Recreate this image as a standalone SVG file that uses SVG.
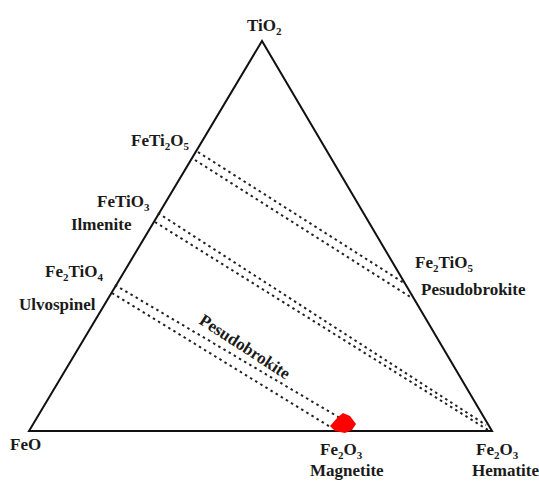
<svg xmlns="http://www.w3.org/2000/svg" width="539" height="482" viewBox="0 0 539 482">
<style>
text{font-family:"Liberation Serif","Times New Roman",serif;font-weight:bold;font-size:17px;fill:#1a1a1a}
.sub{font-size:11px}
.edge{stroke:#111;stroke-width:2;fill:none}
.dash{stroke:#222;stroke-width:2;fill:none;stroke-dasharray:2.5 3.5}
</style>
<rect width="539" height="482" fill="#fff"/>
<g id="triangle">
<polygon class="edge" points="29,431 262,41 492,431" stroke-linejoin="miter"/>
</g>
<g id="connectors">
<line class="dash" x1="198" y1="152" x2="404" y2="283"/>
<line class="dash" x1="195" y1="160" x2="412" y2="298"/>
<line class="dash" x1="158" y1="213" x2="486" y2="425"/>
<line class="dash" x1="155" y1="222" x2="488" y2="430"/>
<line class="dash" x1="115" y1="285" x2="340" y2="418"/>
<line class="dash" x1="112" y1="293" x2="332" y2="428"/>
</g>
<g id="tio2"><text x="247" y="31">TiO<tspan class="sub" dy="4">2</tspan></text></g>
<g id="feti2o5"><text x="131" y="146">FeTi<tspan class="sub" dy="4">2</tspan><tspan dy="-4">O</tspan><tspan class="sub" dy="4">5</tspan></text></g>
<g id="fetio3"><text x="97" y="207">FeTiO<tspan class="sub" dy="4">3</tspan></text><text x="71" y="230">Ilmenite</text></g>
<g id="fe2tio4"><text x="45" y="277">Fe<tspan class="sub" dy="4">2</tspan><tspan dy="-4">TiO</tspan><tspan class="sub" dy="4">4</tspan></text><text x="19" y="310">Ulvospinel</text></g>
<g id="fe2tio5"><text x="415" y="268">Fe<tspan class="sub" dy="4">2</tspan><tspan dy="-4">TiO</tspan><tspan class="sub" dy="4">5</tspan></text><text x="421" y="295">Pesudobrokite</text></g>
<g id="feo"><text x="10" y="450">FeO</text></g>
<g id="magnetite">
<polygon points="330,426 338,417 343,413 350,416 356,424 352,430 345,433 335,431" fill="#f00"/>
<text x="320" y="455">Fe<tspan class="sub" dy="4">2</tspan><tspan dy="-4">O</tspan><tspan class="sub" dy="4">3</tspan></text>
<text x="310" y="476">Magnetite</text>
</g>
<g id="hematite"><text x="476" y="455">Fe<tspan class="sub" dy="4">2</tspan><tspan dy="-4">O</tspan><tspan class="sub" dy="4">3</tspan></text><text x="472" y="476">Hematite</text></g>
<g id="pesudobrokite-label"><text transform="translate(198,323) rotate(33)">Pesudobrokite</text></g>
</svg>
